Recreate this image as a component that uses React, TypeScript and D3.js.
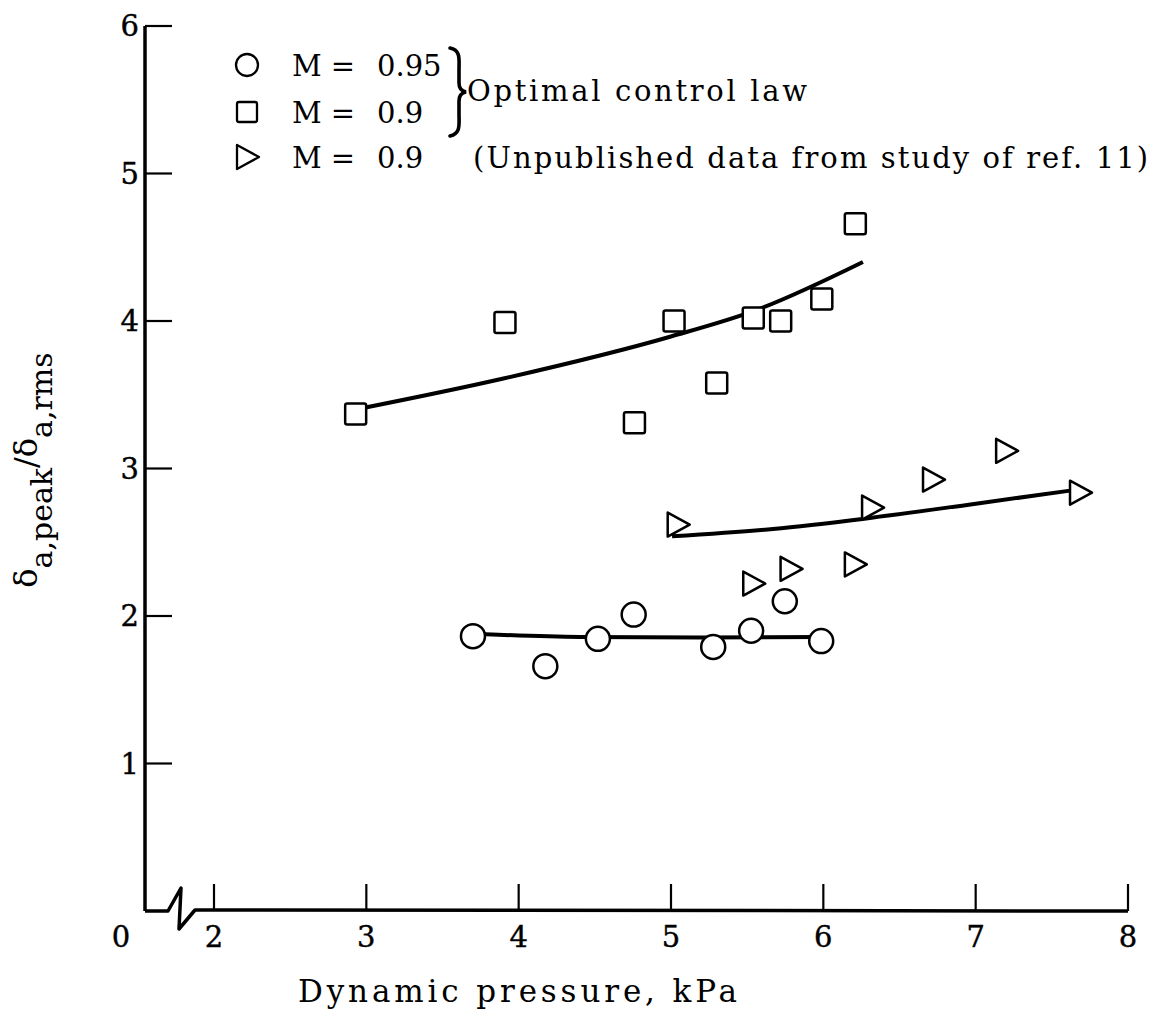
import React from 'react';
import * as d3 from 'd3';

// Data
const circleX = [3.70, 4.175, 4.52, 4.755, 5.277, 5.526, 5.747, 5.986];
const circleY = [1.863, 1.66, 1.845, 2.01, 1.79, 1.90, 2.10, 1.83];
const squareX = [2.93, 3.91, 5.02, 4.76, 5.30, 5.54, 5.72, 5.99, 6.21];
const squareY = [3.37, 3.99, 4.0, 3.31, 3.58, 4.02, 4.0, 4.15, 4.66];
const triangleX = [5.044, 5.54, 5.785, 6.207, 6.32, 6.72, 7.20, 7.685];
const triangleY = [2.62, 2.22, 2.32, 2.35, 2.735, 2.925, 3.12, 2.836];

const circleFitX = [3.70, 4.4, 5.2, 6.0];
const circleFitY = [1.88, 1.858, 1.855, 1.858];
const squareFitX = [2.93, 3.9, 5.0, 5.55, 6.26];
const squareFitY = [3.40, 3.61, 3.895, 4.07, 4.40];
const triFitX = [5.007, 5.67, 6.27, 6.99, 7.62];
const triFitY = [2.54, 2.59, 2.66, 2.76, 2.85];

const xTicks = [2, 3, 4, 5, 6, 7, 8];
const yTicks = [1, 2, 3, 4, 5, 6];

const FONT = '"DejaVu Serif", serif';

export default function App() {
  const W = 1157, H = 1013;
  const x = d3.scaleLinear().domain([2, 8]).range([214, 1128]);
  const y = d3.scaleLinear().domain([0, 6]).range([911, 26]);
  const axisX = 145;
  const axisY = y(0);

  const line = d3.line<[number, number]>()
    .x(d => x(d[0]))
    .y(d => y(d[1]))
    .curve(d3.curveMonotoneX);

  const zip = (a: number[], b: number[]) => a.map((v, i) => [v, b[i]] as [number, number]);

  const tri = (cx: number, cy: number) =>
    `M${cx - 10},${cy - 12} L${cx + 12},${cy} L${cx - 10},${cy + 12} Z`;

  const breakPath = `M${axisX},${axisY} L168,${axisY} L181,${axisY - 23} L179,${axisY + 18} L195,${axisY - 1} L${x(8)},${axisY}`;

  const legendRows = [65, 112, 157];

  return (
    <svg width={W} height={H} style={{ position: 'absolute', left: 0, top: 0, background: '#fff' }}
      fontFamily={FONT}>
      <rect x={0} y={0} width={W} height={H} fill="#fff" />
      {/* Axes */}
      <line x1={axisX} y1={y(6)} x2={axisX} y2={axisY} stroke="#000" strokeWidth={3.5} />
      <path d={breakPath} fill="none" stroke="#000" strokeWidth={3.5} strokeLinejoin="round" />
      {yTicks.map(t => (
        <g key={'yt' + t}>
          <line x1={axisX} x2={axisX + 27} y1={y(t)} y2={y(t)} stroke="#000" strokeWidth={2.2} />
          <text x={139} y={y(t) + 10} fontSize={29} textAnchor="end" stroke="#000" strokeWidth={0.4}>{t}</text>
        </g>
      ))}
      {xTicks.map(t => (
        <g key={'xt' + t}>
          <line x1={x(t)} x2={x(t)} y1={axisY} y2={axisY - 27} stroke="#000" strokeWidth={2.2} />
          <text x={x(t)} y={947} fontSize={29} textAnchor="middle" stroke="#000" strokeWidth={0.4}>{t}</text>
        </g>
      ))}
      <text x={121} y={947} fontSize={29} textAnchor="middle" stroke="#000" strokeWidth={0.4}>0</text>

      {/* Axis titles */}
      <text x={298} y={1002} fontSize={31} textLength={439} lengthAdjust="spacing">Dynamic pressure, kPa</text>
      <text transform="translate(37,470) rotate(-90)" fontSize={32} textAnchor="middle">
        <tspan>δ</tspan>
        <tspan dy={15} fontSize={30}>a,peak</tspan>
        <tspan dy={-15}>/δ</tspan>
        <tspan dy={15} fontSize={30}>a,rms</tspan>
      </text>

      {/* Fitted curves */}
      <path d={line(zip(squareFitX, squareFitY)) || ''} fill="none" stroke="#000" strokeWidth={4} />
      <path d={line(zip(triFitX, triFitY)) || ''} fill="none" stroke="#000" strokeWidth={4} />
      <path d={line(zip(circleFitX, circleFitY)) || ''} fill="none" stroke="#000" strokeWidth={4} />

      {/* Markers */}
      {circleX.map((v, i) => (
        <circle key={'c' + i} cx={x(v)} cy={y(circleY[i])} r={12} fill="#fff" stroke="#000" strokeWidth={2.5} />
      ))}
      {squareX.map((v, i) => (
        <rect key={'s' + i} x={x(v) - 10.5} y={y(squareY[i]) - 10.5} width={21} height={21} rx={2}
          fill="#fff" stroke="#000" strokeWidth={2.5} />
      ))}
      {triangleX.map((v, i) => (
        <path key={'t' + i} d={tri(x(v), y(triangleY[i]))} fill="#fff" stroke="#000" strokeWidth={2.5}
          strokeLinejoin="round" />
      ))}

      {/* Legend */}
      <circle cx={247} cy={legendRows[0]} r={11} fill="#fff" stroke="#000" strokeWidth={2.3} />
      <rect x={237} y={legendRows[1] - 10} width={20} height={20} rx={2} fill="#fff" stroke="#000" strokeWidth={2.3} />
      <path d={tri(247, legendRows[2])} fill="#fff" stroke="#000" strokeWidth={2.3} strokeLinejoin="round" />
      {['0.95', '0.9', '0.9'].map((m, i) => (
        <g key={'lg' + i} fontSize={29}>
          <text x={292} y={legendRows[i] + 11}>M</text>
          <text x={343} y={legendRows[i] + 11} textAnchor="middle">=</text>
          <text x={377} y={legendRows[i] + 11}>{m}</text>
        </g>
      ))}
      <path d="M450,48 C461,50 459,60 459,70 L459,83 C459,88 461,91 466,92 C461,93 459,96 459,101 L459,114 C459,125 461,133 450,136"
        fill="none" stroke="#000" strokeWidth={3.6} strokeLinecap="round" />
      <text x={467} y={101} fontSize={29} textLength={340} lengthAdjust="spacing">Optimal control law</text>
      <text x={473} y={legendRows[2] + 11} fontSize={29} textLength={675} lengthAdjust="spacing">(Unpublished data from study of ref. 11)</text>
    </svg>
  );
}
